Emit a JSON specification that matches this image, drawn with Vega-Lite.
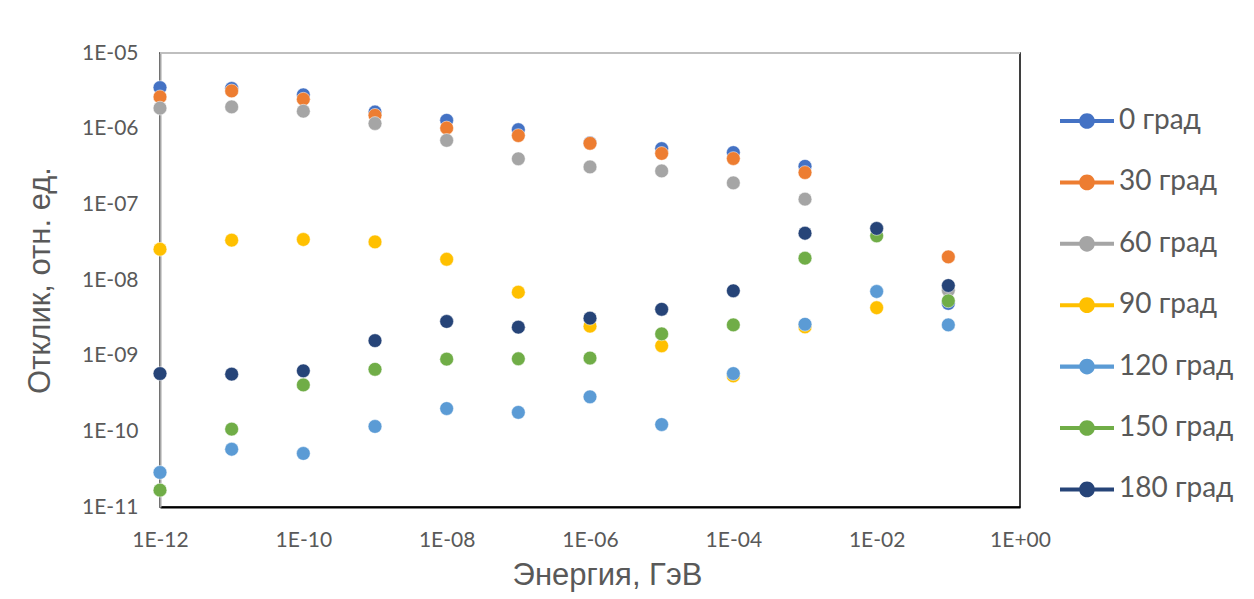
{
  "$schema": "https://vega.github.io/schema/vega-lite/v6.json",
  "autosize": {"type": "none"},
  "width": 860,
  "height": 454,
  "padding": {"left": 160, "top": 53, "right": 234, "bottom": 92},
  "background": "white",
  "config": {
    "view": {"stroke": "#000000", "strokeWidth": 1.5},
    "axis": {"grid": false, "ticks": false, "labelColor": "#595959", "titleColor": "#595959", "labelFont": "Lato", "titleFont": "Liberation Sans", "titleFontWeight": "normal"}
  },
  "data": {"values": [
    {"s": "0 град", "e": 1e-12, "r": 3.49e-6},
    {"s": "0 град", "e": 1e-11, "r": 3.4e-6},
    {"s": "0 град", "e": 1e-10, "r": 2.8e-6},
    {"s": "0 град", "e": 1e-9, "r": 1.66e-6},
    {"s": "0 град", "e": 1e-8, "r": 1.29e-6},
    {"s": "0 град", "e": 1e-7, "r": 9.7e-7},
    {"s": "0 град", "e": 1e-6, "r": 6.5e-7},
    {"s": "0 град", "e": 1e-5, "r": 5.45e-7},
    {"s": "0 град", "e": 1e-4, "r": 4.83e-7},
    {"s": "0 град", "e": 1e-3, "r": 3.18e-7},
    {"s": "0 град", "e": 1e-1, "r": 4.9e-9},
    {"s": "30 град", "e": 1e-12, "r": 2.63e-6},
    {"s": "30 град", "e": 1e-11, "r": 3.15e-6},
    {"s": "30 град", "e": 1e-10, "r": 2.45e-6},
    {"s": "30 град", "e": 1e-9, "r": 1.5e-6},
    {"s": "30 град", "e": 1e-8, "r": 1.02e-6},
    {"s": "30 град", "e": 1e-7, "r": 8.1e-7},
    {"s": "30 град", "e": 1e-6, "r": 6.4e-7},
    {"s": "30 град", "e": 1e-5, "r": 4.7e-7},
    {"s": "30 град", "e": 1e-4, "r": 4.03e-7},
    {"s": "30 град", "e": 1e-3, "r": 2.63e-7},
    {"s": "30 град", "e": 1e-1, "r": 2.02e-8},
    {"s": "60 град", "e": 1e-12, "r": 1.87e-6},
    {"s": "60 град", "e": 1e-11, "r": 1.94e-6},
    {"s": "60 град", "e": 1e-10, "r": 1.7e-6},
    {"s": "60 град", "e": 1e-9, "r": 1.17e-6},
    {"s": "60 град", "e": 1e-8, "r": 7.0e-7},
    {"s": "60 град", "e": 1e-7, "r": 4.0e-7},
    {"s": "60 град", "e": 1e-6, "r": 3.12e-7},
    {"s": "60 град", "e": 1e-5, "r": 2.76e-7},
    {"s": "60 град", "e": 1e-4, "r": 1.92e-7},
    {"s": "60 град", "e": 1e-3, "r": 1.17e-7},
    {"s": "60 град", "e": 1e-1, "r": 7.3e-9},
    {"s": "90 град", "e": 1e-12, "r": 2.55e-8},
    {"s": "90 град", "e": 1e-11, "r": 3.36e-8},
    {"s": "90 град", "e": 1e-10, "r": 3.43e-8},
    {"s": "90 град", "e": 1e-9, "r": 3.19e-8},
    {"s": "90 град", "e": 1e-8, "r": 1.88e-8},
    {"s": "90 град", "e": 1e-7, "r": 6.9e-9},
    {"s": "90 град", "e": 1e-6, "r": 2.45e-9},
    {"s": "90 град", "e": 1e-5, "r": 1.35e-9},
    {"s": "90 град", "e": 1e-4, "r": 5.4e-10},
    {"s": "90 град", "e": 1e-3, "r": 2.4e-9},
    {"s": "90 град", "e": 1e-2, "r": 4.3e-9},
    {"s": "120 град", "e": 1e-12, "r": 2.86e-11},
    {"s": "120 град", "e": 1e-11, "r": 5.8e-11},
    {"s": "120 град", "e": 1e-10, "r": 5.1e-11},
    {"s": "120 град", "e": 1e-9, "r": 1.16e-10},
    {"s": "120 град", "e": 1e-8, "r": 2.0e-10},
    {"s": "120 град", "e": 1e-7, "r": 1.78e-10},
    {"s": "120 град", "e": 1e-6, "r": 2.86e-10},
    {"s": "120 град", "e": 1e-5, "r": 1.23e-10},
    {"s": "120 град", "e": 1e-4, "r": 5.8e-10},
    {"s": "120 град", "e": 1e-3, "r": 2.6e-9},
    {"s": "120 град", "e": 1e-2, "r": 7.05e-9},
    {"s": "120 град", "e": 1e-1, "r": 2.55e-9},
    {"s": "150 град", "e": 1e-12, "r": 1.67e-11},
    {"s": "150 град", "e": 1e-11, "r": 1.07e-10},
    {"s": "150 град", "e": 1e-10, "r": 4.1e-10},
    {"s": "150 град", "e": 1e-9, "r": 6.6e-10},
    {"s": "150 град", "e": 1e-8, "r": 9.0e-10},
    {"s": "150 град", "e": 1e-7, "r": 9.1e-10},
    {"s": "150 град", "e": 1e-6, "r": 9.3e-10},
    {"s": "150 град", "e": 1e-5, "r": 1.94e-9},
    {"s": "150 град", "e": 1e-4, "r": 2.55e-9},
    {"s": "150 град", "e": 1e-3, "r": 1.94e-8},
    {"s": "150 град", "e": 1e-2, "r": 3.83e-8},
    {"s": "150 град", "e": 1e-1, "r": 5.3e-9},
    {"s": "180 град", "e": 1e-12, "r": 5.8e-10},
    {"s": "180 град", "e": 1e-11, "r": 5.7e-10},
    {"s": "180 град", "e": 1e-10, "r": 6.3e-10},
    {"s": "180 град", "e": 1e-9, "r": 1.58e-9},
    {"s": "180 град", "e": 1e-8, "r": 2.83e-9},
    {"s": "180 град", "e": 1e-7, "r": 2.38e-9},
    {"s": "180 град", "e": 1e-6, "r": 3.13e-9},
    {"s": "180 град", "e": 1e-5, "r": 4.1e-9},
    {"s": "180 град", "e": 1e-4, "r": 7.2e-9},
    {"s": "180 град", "e": 1e-3, "r": 4.15e-8},
    {"s": "180 град", "e": 1e-2, "r": 4.8e-8},
    {"s": "180 град", "e": 1e-1, "r": 8.45e-9}
  ]},
  "layer": [
    {
      "mark": {"type": "rule", "color": "#bfbfbf", "strokeWidth": 1.5},
      "encoding": {"y": {"datum": 1e-5, "type": "quantitative"}}
    },
    {
      "mark": {"type": "point", "filled": true, "size": 190, "opacity": 1, "stroke": "white", "strokeWidth": 0.5},
      "encoding": {
        "x": {
          "field": "e", "type": "quantitative",
          "scale": {"type": "log", "domain": [1e-12, 1], "nice": false},
          "axis": {
            "title": "Энергия, ГэВ", "titleFontSize": 31, "titlePadding": 10, "titleX": 447, "titleAlign": "center", "titleAnchor": "start",
            "values": [1e-12, 1e-10, 1e-8, 1e-6, 1e-4, 1e-2, 1],
            "labelExpr": "'1E' + (round(log(datum.value)/LN10) < 0 ? '-' : '+') + (abs(round(log(datum.value)/LN10)) < 10 ? '0' : '') + abs(round(log(datum.value)/LN10))",
            "labelFontSize": 21, "labelPadding": 22,
            "domainColor": "#000000", "domainWidth": 2, "labelFlush": false
          }
        },
        "y": {
          "field": "r", "type": "quantitative",
          "scale": {"type": "log", "domain": [1e-11, 1e-5], "nice": false},
          "axis": {
            "title": "Отклик, отн. ед.", "titleFontSize": 31, "titlePadding": 25,
            "values": [1e-11, 1e-10, 1e-9, 1e-8, 1e-7, 1e-6, 1e-5],
            "labelExpr": "'1E' + (round(log(datum.value)/LN10) < 0 ? '-' : '+') + (abs(round(log(datum.value)/LN10)) < 10 ? '0' : '') + abs(round(log(datum.value)/LN10))",
            "labelFontSize": 21, "labelPadding": 22,
            "domainColor": "#a6a6a6", "domainWidth": 2, "labelFlush": false
          }
        },
        "color": {
          "field": "s", "type": "nominal",
          "scale": {
            "domain": ["0 град", "30 град", "60 град", "90 град", "120 град", "150 град", "180 град"],
            "range": ["#4472C4", "#ED7D31", "#A5A5A5", "#FFC000", "#5B9BD5", "#70AD47", "#264478"]
          },
          "legend": {
            "title": null, "orient": "none", "legendX": 900, "legendY": 41,
            "padding": 0, "rowPadding": 20.4,
            "symbolType": "M -1 -0.075 H 1 V 0.075 H -1 Z M 0.29 0 A 0.29 0.29 0 1 1 -0.29 0 A 0.29 0.29 0 1 1 0.29 0 Z",
            "symbolSize": 2916, "symbolStrokeWidth": 0, "symbolOpacity": 1,
            "labelFont": "Lato", "labelFontSize": 28, "labelColor": "#595959", "labelOffset": 5, "labelLimit": 300
          }
        }
      }
    }
  ]
}
